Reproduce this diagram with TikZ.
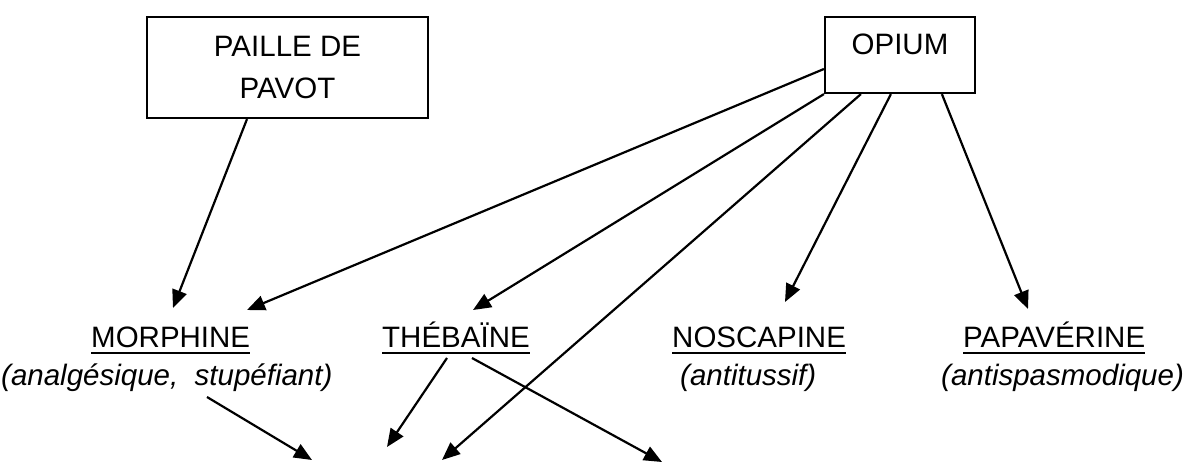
\documentclass[tikz,border=0pt]{standalone}
\usepackage{fontspec}
\setmainfont{Liberation Sans}
\usetikzlibrary{arrows.meta}
\begin{document}
\begin{tikzpicture}[x=1pt,y=-1pt,
  bigfont/.style={font=\fontsize{29.5}{42}\selectfont},
  box/.style={draw, line width=2.2pt, inner sep=0pt, bigfont, align=center},
  lbl/.style={inner sep=0pt, anchor=base west, bigfont},
  sub/.style={inner sep=0pt, anchor=base west, font=\fontsize{29.5}{35}\selectfont\itshape},
  arr/.style={line width=2.2pt, -{Triangle[length=18pt,width=15pt]}},
  uline/.style={line width=2.2pt}]
\useasboundingbox (0,0) rectangle (1192,468);
% boxes
\node[box, minimum width=281pt, minimum height=101pt] (pp) at (287.5,67.5) {PAILLE DE\\PAVOT};
\node[box, minimum width=150pt, minimum height=76pt, text depth=21.5pt] (op) at (900,55) {OPIUM};
% labels
\node[lbl] (morph) at (91,347.5) {MORPHINE\hspace{10pt}};
\node[sub] (morphsub) at (1,385) {(analgésique,\ \ stupéfiant)};
\node[lbl] (theb) at (382,347.5) {THÉBAÏNE};
\node[lbl] (nosc) at (672,347.5) {NOSCAPINE};
\node[sub] (noscsub) at (680,385) {(antitussif)};
\node[lbl] (papa) at (963,347.5) {PAPAVÉRINE};
\node[sub] (papasub) at (941,385) {(antispasmodique)};
% underlines
\foreach \n in {morph,theb,nosc,papa}
  \draw[uline] ([yshift=-5.8pt]\n.base west) -- ([yshift=-5.8pt]\n.base east);
% lower targets
\coordinate (codA) at (312,460);
\coordinate (codB) at (387,447);
\coordinate (codC) at (442,460);
\coordinate (oth) at (662,462);
% arrows
\draw[arr] ([xshift=-40.5pt]pp.south) -- ([xshift=82pt,yshift=39.5pt]morph.base west);
\draw[arr] ([yshift=-14pt]op.west) -- ([xshift=156pt,yshift=37.5pt]morph.base west);
\draw[arr] (op.south west) -- ([xshift=91pt,yshift=37.5pt]theb.base west);
\draw[arr] ([xshift=37pt]op.south west) -- (codC);
\draw[arr] ([xshift=67pt]op.south west) -- ([xshift=113pt,yshift=45.5pt]nosc.base west);
\draw[arr] ([xshift=118pt]op.south west) -- ([xshift=65pt,yshift=38.5pt]papa.base west);
\draw[arr] ([xshift=206pt,yshift=-12pt]morphsub.base west) -- (codA);
\draw[arr] ([xshift=65pt,yshift=-10.5pt]theb.base west) -- (codB);
\draw[arr] ([xshift=90pt,yshift=-10.5pt]theb.base west) -- (oth);
\end{tikzpicture}
\end{document}
